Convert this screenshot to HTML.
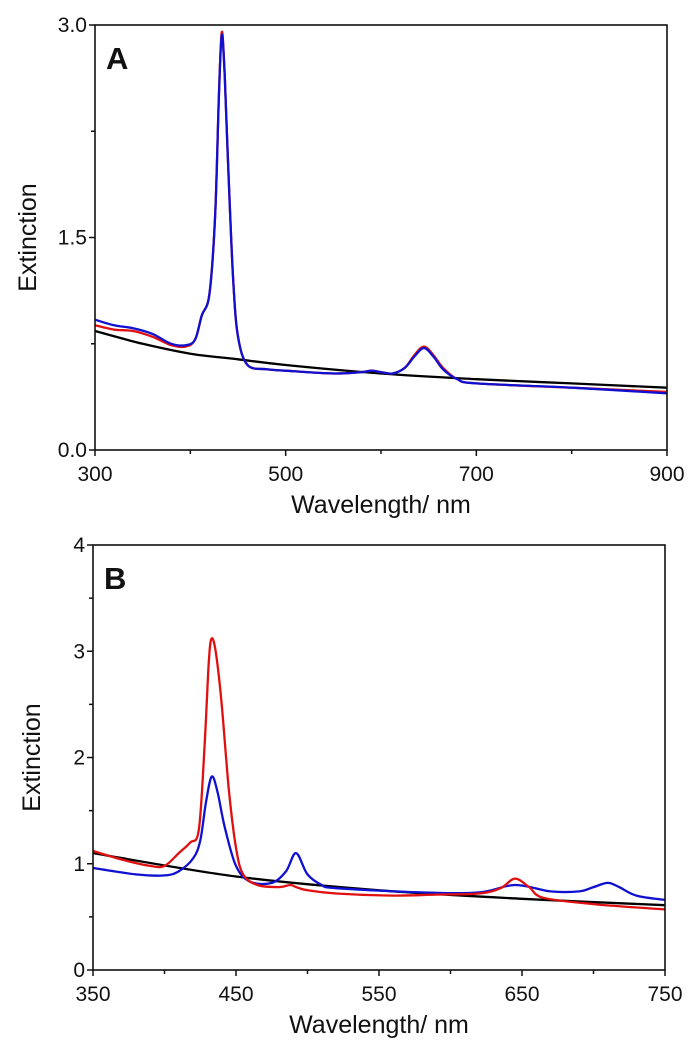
<!DOCTYPE html>
<html><head><meta charset="utf-8">
<style>
html,body{margin:0;padding:0;background:#fff;}
svg text{font-family:"Liberation Sans",Arial,sans-serif;fill:#111;}
</style></head>
<body>
<svg id="chart" width="696" height="1047" viewBox="0 0 696 1047" xmlns="http://www.w3.org/2000/svg"></svg>
<script>
// Panel A data
const aBlueX=[300,320,340,360,380,395,405,412,420,426,430,433,436,440,445,450,460,480,500,550,580,590,600,612,625,635,645,655,665,680,700,800,900];
const aBlueY=[0.92,0.88,0.86,0.82,0.75,0.74,0.78,0.95,1.1,1.65,2.5,2.93,2.65,1.95,1.2,0.8,0.6,0.57,0.56,0.54,0.55,0.56,0.55,0.54,0.58,0.66,0.72,0.66,0.57,0.5,0.47,0.44,0.4];
const aRedX=aBlueX;
const aRedY=[0.88,0.85,0.84,0.80,0.74,0.73,0.78,0.95,1.1,1.65,2.5,2.95,2.65,1.95,1.2,0.8,0.6,0.57,0.56,0.54,0.55,0.56,0.55,0.54,0.58,0.67,0.73,0.67,0.58,0.5,0.47,0.44,0.41];
const aBlackX=[300,350,400,450,500,600,700,800,900];
const aBlackY=[0.84,0.75,0.68,0.64,0.60,0.54,0.50,0.47,0.44];
const aXTicks=[300,500,700,900];
const aYTicks=[0.0,1.5,3.0];
// Panel B data
const bRedX=[350,370,390,400,410,418,424,428,431,433,436,440,445,450,455,465,480,488,492,500,520,560,590,620,635,645,655,665,700,750];
const bRedY=[1.12,1.04,0.98,0.98,1.1,1.2,1.32,2.1,2.9,3.12,2.98,2.5,1.7,1.15,0.9,0.8,0.78,0.8,0.78,0.75,0.72,0.7,0.71,0.72,0.77,0.86,0.78,0.68,0.62,0.57];
const bBlueX=[350,380,400,410,420,425,429,433,437,442,450,460,475,485,492,500,510,520,580,620,645,670,690,700,710,718,730,750];
const bBlueY=[0.96,0.9,0.89,0.93,1.05,1.22,1.58,1.82,1.68,1.35,0.98,0.83,0.82,0.93,1.1,0.9,0.8,0.77,0.73,0.73,0.8,0.74,0.74,0.78,0.82,0.78,0.7,0.66];
const bBlackX=[350,450,550,650,750];
const bBlackY=[1.1,0.88,0.75,0.67,0.61];
const bXTicks=[350,450,550,650,750];
const bYTicks=[0,1,2,3,4];

const svg=document.getElementById('chart');
const NS='http://www.w3.org/2000/svg';
function mk(tag,attrs,parent){const e=document.createElementNS(NS,tag);for(const k in attrs)e.setAttribute(k,attrs[k]);(parent||svg).appendChild(e);return e;}
function smoothPath(xs,ys,sx,sy){
  const p=xs.map((x,i)=>[sx(x),sy(ys[i])]);
  let d='M'+p[0][0].toFixed(1)+','+p[0][1].toFixed(1);
  for(let i=0;i<p.length-1;i++){
    const p0=p[Math.max(0,i-1)],p1=p[i],p2=p[i+1],p3=p[Math.min(p.length-1,i+2)];
    const c1=[p1[0]+(p2[0]-p0[0])/6,p1[1]+(p2[1]-p0[1])/6];
    const c2=[p2[0]-(p3[0]-p1[0])/6,p2[1]-(p3[1]-p1[1])/6];
    d+='C'+c1[0].toFixed(1)+','+c1[1].toFixed(1)+' '+c2[0].toFixed(1)+','+c2[1].toFixed(1)+' '+p2[0].toFixed(1)+','+p2[1].toFixed(1);
  }
  return d;
}
function panel(cfg){
  const g=mk('g',{});
  
  
  const sx=v=>cfg.x0+(v-cfg.xmin)/(cfg.xmax-cfg.xmin)*(cfg.x1-cfg.x0);
  const sy=v=>cfg.y0-(v-cfg.ymin)/(cfg.ymax-cfg.ymin)*(cfg.y0-cfg.y1);
  cfg.series.forEach(s=>{
    const p=mk('path',{d:smoothPath(s.x,s.y,sx,sy),fill:'none',stroke:s.color,'stroke-width':2.3,'stroke-linejoin':'round'},g);
    
    
  });
  const f=mk('rect',{x:cfg.x0,y:cfg.y1,width:cfg.x1-cfg.x0,height:cfg.y0-cfg.y1,fill:'none',stroke:'#111','stroke-width':1.6},g);
  
  
  for(let i=0;i<cfg.xt.length;i++){
    const v=cfg.xt[i],X=sx(v);
    mk('line',{x1:X,x2:X,y1:cfg.y0,y2:cfg.y0+6,stroke:'#111','stroke-width':1.5},g);
    const t=mk('text',{x:X,y:cfg.y0+31,'text-anchor':'middle','font-size':21},g);
    t.textContent=v;
    
    
    if(i<cfg.xt.length-1){const m=sx((v+cfg.xt[i+1])/2);mk('line',{x1:m,x2:m,y1:cfg.y0,y2:cfg.y0+4,stroke:'#111','stroke-width':1.5},g);}
  }
  for(let i=0;i<cfg.yt.length;i++){
    const v=cfg.yt[i],Y=sy(v);
    mk('line',{x1:cfg.x0-6,x2:cfg.x0,y1:Y,y2:Y,stroke:'#111','stroke-width':1.5},g);
    const t=mk('text',{x:cfg.x0-8,y:Y+7,'text-anchor':'end','font-size':21},g);
    t.textContent=cfg.yfmt(v);
    
    
    if(i<cfg.yt.length-1){const m=sy((v+cfg.yt[i+1])/2);mk('line',{x1:cfg.x0-4,x2:cfg.x0,y1:m,y2:m,stroke:'#111','stroke-width':1.5},g);}
  }
  const xt=mk('text',{x:(cfg.x0+cfg.x1)/2,y:cfg.y0+63,'text-anchor':'middle','font-size':25},g);
  xt.textContent='Wavelength/ nm';
  
  
  const cy=(cfg.y0+cfg.y1)/2;
  const yt=mk('text',{x:cfg.ytx,y:cy,'text-anchor':'middle','font-size':25,transform:'rotate(-90 '+cfg.ytx+' '+cy+')'},g);
  yt.textContent='Extinction';
  
  
  const lb=mk('text',{x:cfg.x0+11,y:cfg.y1+44,'font-size':31,'font-weight':'bold'},g);
  lb.textContent=cfg.label;
  
  
}
panel({name:'panel-a',label:'A',x0:95,x1:667,y0:450,y1:25,xmin:300,xmax:900,ymin:0,ymax:3,xt:aXTicks,yt:aYTicks,yfmt:v=>v.toFixed(1),ytx:36,
  series:[{name:'black-baseline-a',x:aBlackX,y:aBlackY,color:'#000'},{name:'red-spectrum-a',x:aRedX,y:aRedY,color:'#e01010'},{name:'blue-spectrum-a',x:aBlueX,y:aBlueY,color:'#1010d0'}]});
panel({name:'panel-b',label:'B',x0:93,x1:665,y0:970,y1:545,xmin:350,xmax:750,ymin:0,ymax:4,xt:bXTicks,yt:bYTicks,yfmt:v=>String(v),ytx:40,
  series:[{name:'black-baseline-b',x:bBlackX,y:bBlackY,color:'#000'},{name:'blue-spectrum-b',x:bBlueX,y:bBlueY,color:'#1010d0'},{name:'red-spectrum-b',x:bRedX,y:bRedY,color:'#e01010'}]});
</script>
</body></html>
